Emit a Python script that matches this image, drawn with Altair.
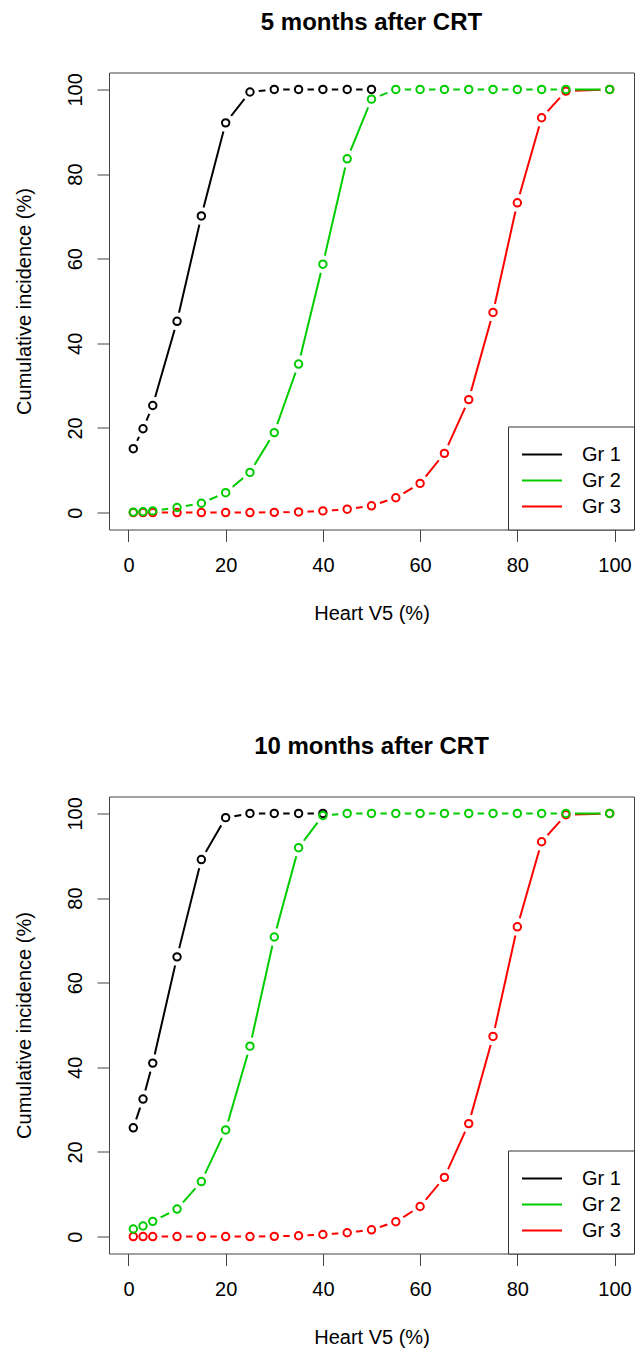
import altair as alt
import pandas as pd

# ---- data ----
x_vals = [1, 3, 5, 10, 15, 20, 25, 30, 35, 40, 45, 50, 55, 60, 65, 70, 75, 80, 85, 90, 99]
groups = ["Gr 1", "Gr 2", "Gr 3"]
colors = ["#000000", "#00CD00", "#FF0000"]

# 5 months after CRT
gr1_5m = [15.1, 19.8, 25.3, 45.2, 70.1, 92.1, 99.4, 100, 100, 100, 100, 100]
gr2_5m = [0.1, 0.2, 0.4, 1.2, 2.2, 4.7, 9.5, 18.9, 35.1, 58.7, 83.6, 97.7,
          100, 100, 100, 100, 100, 100, 100, 100, 100]
gr3_5m = [0, 0, 0, 0, 0, 0, 0, 0.05, 0.15, 0.4, 0.8, 1.6,
          3.5, 6.9, 14.0, 26.7, 47.3, 73.2, 93.3, 99.6, 100]

# 10 months after CRT
gr1_10m = [25.7, 32.5, 41.0, 66.1, 89.1, 99.0, 100, 100, 100, 100]
gr2_10m = [1.8, 2.5, 3.6, 6.5, 13.0, 25.2, 45.0, 70.8, 91.9, 99.5, 100,
           100, 100, 100, 100, 100, 100, 100, 100, 100, 100]
gr3_10m = [0, 0, 0, 0, 0, 0, 0, 0.05, 0.2, 0.5, 0.9, 1.6,
           3.5, 7.1, 14.0, 26.7, 47.3, 73.2, 93.3, 99.7, 100]

titles = ["5 months after CRT", "10 months after CRT"]
x_ticks = [0, 20, 40, 60, 80, 100]
y_ticks = [0, 20, 40, 60, 80, 100]

FONT = "Liberation Sans"
W, H = 525, 457


def frame(g1, g2, g3):
    rows = []
    # drawing order: Gr 1, Gr 3, Gr 2 (green drawn on top)
    for name, vals in (("Gr 1", g1), ("Gr 3", g3), ("Gr 2", g2)):
        for xv, yv in zip(x_vals, vals):
            rows.append({"x": xv, "y": yv, "group": name})
    return pd.DataFrame(rows)


def panel(df, title):
    x = alt.X("x:Q", scale=alt.Scale(domain=[-4, 104], nice=False, zero=False),
              axis=alt.Axis(values=x_ticks, title="Heart V5 (%)", grid=False, domain=False,
                            tickSize=12, tickColor="#444", labelFont=FONT, labelFontSize=20,
                            labelColor="#000", labelBaseline="alphabetic", labelPadding=30,
                            labelFlush=False,
                            titleFont=FONT, titleFontSize=20, titleFontWeight="normal",
                            titleColor="#000", titleBaseline="alphabetic", titleAlign="center",
                            titleX=W / 2, titleY=90))
    y = alt.Y("y:Q", scale=alt.Scale(domain=[-4, 104], nice=False, zero=False),
              axis=alt.Axis(values=y_ticks, title="Cumulative incidence (%)", grid=False,
                            domain=False, tickSize=12, tickColor="#444", labelFont=FONT,
                            labelFontSize=20, labelColor="#000", labelAngle=270,
                            labelAlign="center", labelBaseline="alphabetic", labelPadding=16,
                            labelFlush=False,
                            titleFont=FONT, titleFontSize=20, titleFontWeight="normal",
                            titleColor="#000", titleAngle=270, titleAlign="center",
                            titleBaseline="alphabetic", titleX=-79, titleY=H / 2))
    color_scale = alt.Scale(domain=groups, range=colors)
    base = alt.Chart(df)
    lines = base.mark_line(strokeWidth=2).encode(
        x=x, y=y,
        color=alt.Color("group:N", scale=color_scale,
                        legend=alt.Legend(title=" ", titleFontSize=1, titlePadding=3,
                                          orient="bottom-right", offset=0,
                                          padding=13, strokeColor="#333", fillColor="white",
                                          cornerRadius=0, symbolType="M-1,0H3",
                                          symbolSize=400, symbolStrokeWidth=2,
                                          labelFont=FONT, labelFontSize=20,
                                          labelColor="#000", labelOffset=39,
                                          rowPadding=5)),
        detail="group:N",
    )
    halos = base.mark_point(filled=True, size=324, opacity=1, strokeWidth=0).encode(
        x=x, y=y, color=alt.value("white"))
    points = base.mark_point(filled=False, size=55, strokeWidth=2, opacity=1).encode(
        x=x, y=y,
        color=alt.Color("group:N", scale=color_scale, legend=None))
    return alt.layer(lines, halos, points).properties(
        width=W, height=H,
        title=alt.TitleParams(title, font=FONT, fontSize=24, fontWeight="bold",
                              color="#000", anchor="middle", baseline="alphabetic",
                              offset=19),
    )


top = panel(frame(gr1_5m, gr2_5m, gr3_5m), titles[0])
bottom = panel(frame(gr1_10m, gr2_10m, gr3_10m), titles[1])

chart = alt.vconcat(top, bottom, spacing=109).resolve_legend(
    color="independent"
).configure_view(stroke="#444", strokeWidth=1).properties(
    padding={"left": 5, "top": 1.5, "right": 0, "bottom": 0},
    background="white",
)

chart.save("out.html", embed_options={"renderer": "svg", "actions": False})
